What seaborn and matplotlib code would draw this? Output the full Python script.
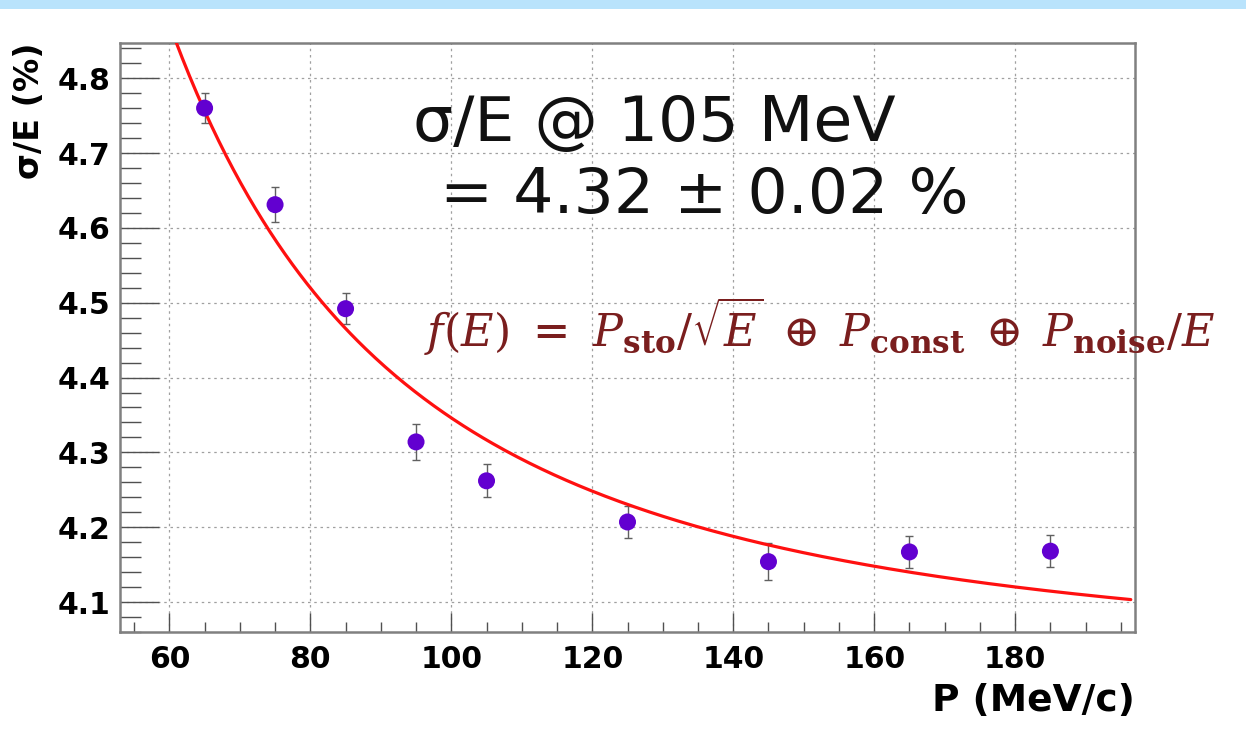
import numpy as np
import pandas as pd
import matplotlib
matplotlib.use("Agg")
import matplotlib.pyplot as plt
from matplotlib.ticker import MultipleLocator, FormatStrFormatter
from matplotlib.patches import Rectangle
import seaborn as sns

# Measured resolution vs. beam momentum
momentum = [65, 75, 85, 95, 105, 125, 145, 165, 185]
resolution = [4.760, 4.631, 4.492, 4.314, 4.262, 4.207, 4.154, 4.167, 4.168]
resolution_err = [0.020, 0.023, 0.021, 0.024, 0.022, 0.022, 0.025, 0.021, 0.021]

# Fit parameters of f(E) = P_sto/sqrt(E) (+) P_const (+) P_noise/E
p_sto = 3.74
p_const = 4.009
p_noise = 163.6
fit_range = (58.0, 196.4)

W, H, DPI = 1246, 734, 100
sns.set_theme(style="white")
plt.rcParams["font.family"] = ["DejaVu Sans"]
plt.rcParams["mathtext.fontset"] = "dejavuserif"
plt.rcParams["text.color"] = "black"
plt.rcParams["axes.labelcolor"] = "black"
plt.rcParams["xtick.color"] = "black"
plt.rcParams["ytick.color"] = "black"

fig = plt.figure(figsize=(W / DPI, H / DPI), dpi=DPI)
fig.patch.set_facecolor("white")
# light blue header strip
fig.patches.append(Rectangle((0, 1 - 9 / H), 1, 9 / H, transform=fig.transFigure,
                             facecolor="#b9e3fc", edgecolor="none", zorder=0))

ax = fig.add_axes([120 / W, 1 - 632 / H, 1015 / W, 589 / H])
ax.set_facecolor("white")

df = pd.DataFrame({"P": momentum, "res": resolution, "err": resolution_err})

# fit curve
e_grid = np.linspace(fit_range[0], fit_range[1], 400)
fit_vals = np.sqrt((p_sto / np.sqrt(e_grid)) ** 2 + p_const ** 2 + (p_noise / e_grid) ** 2)
sns.lineplot(x=e_grid, y=fit_vals, ax=ax, color="#ff1010", linewidth=2.3, zorder=4)

# error bars and data points
ax.errorbar(df["P"], df["res"], yerr=df["err"], fmt="none", ecolor="#606060",
            elinewidth=1.0, capsize=3, capthick=1.0, zorder=3)
sns.scatterplot(data=df, x="P", y="res", ax=ax, color="#6200d0", s=150,
                edgecolor="none", zorder=5)

ax.set_xlim(53, 197)
ax.set_ylim(4.06, 4.847)

ax.xaxis.set_major_locator(MultipleLocator(20))
ax.xaxis.set_minor_locator(MultipleLocator(5))
ax.yaxis.set_major_locator(MultipleLocator(0.1))
ax.yaxis.set_minor_locator(MultipleLocator(0.02))
ax.yaxis.set_major_formatter(FormatStrFormatter("%.1f"))

ax.grid(True, which="major", axis="both", color="#a0a0a0", linestyle=(0, (2.0, 3.0)),
        linewidth=0.9)
ax.set_axisbelow(True)

for side in ["left", "right", "top", "bottom"]:
    ax.spines[side].set_visible(True)
    ax.spines[side].set_color("#808080")
    ax.spines[side].set_linewidth(1.8)

ax.tick_params(axis="x", which="major", direction="in", length=14, width=1.0,
               color="#505050", labelcolor="black", pad=9, labelsize=21.5,
               bottom=True, top=False)
ax.tick_params(axis="x", which="minor", direction="in", length=7, width=1.0,
               color="#505050", bottom=True, top=False)
ax.tick_params(axis="y", which="major", direction="in", length=28, width=1.0,
               color="#505050", labelcolor="black", pad=7, labelsize=21.5,
               left=True, right=False)
ax.tick_params(axis="y", which="minor", direction="in", length=15, width=1.0,
               color="#505050", left=True, right=False)
for lab in ax.get_xticklabels() + ax.get_yticklabels():
    lab.set_fontweight("bold")

ax.set_xlabel("P (MeV/c)", fontsize=27, fontweight="bold", loc="right", color="black")
ax.xaxis.set_label_coords(1.0, -(683 - 632) / 589)
ax.set_ylabel("σ/E (%)", fontsize=24, fontweight="bold", loc="top", color="black")
ax.yaxis.set_label_coords(-(120 - 46) / 1015, 1.0)

# annotations
fig.text(413 / W, 1 - 141 / H, "σ/E @ 105 MeV", fontsize=45.5, color="#111111",
         ha="left", va="baseline")
fig.text(440 / W, 1 - 213.5 / H, "= 4.32 ± 0.02 %", fontsize=45.5, color="#111111",
         ha="left", va="baseline")
fig.text(424 / W, 1 - 347 / H,
         r"$f(E)\ =\ P_{\mathbf{sto}}/\sqrt{E}\;\oplus\;P_{\mathbf{const}}\;\oplus\;P_{\mathbf{noise}}/E$",
         fontsize=32, color="#7a1e1e", ha="left", va="baseline")

fig.savefig("out.png", dpi=DPI, facecolor="white")
